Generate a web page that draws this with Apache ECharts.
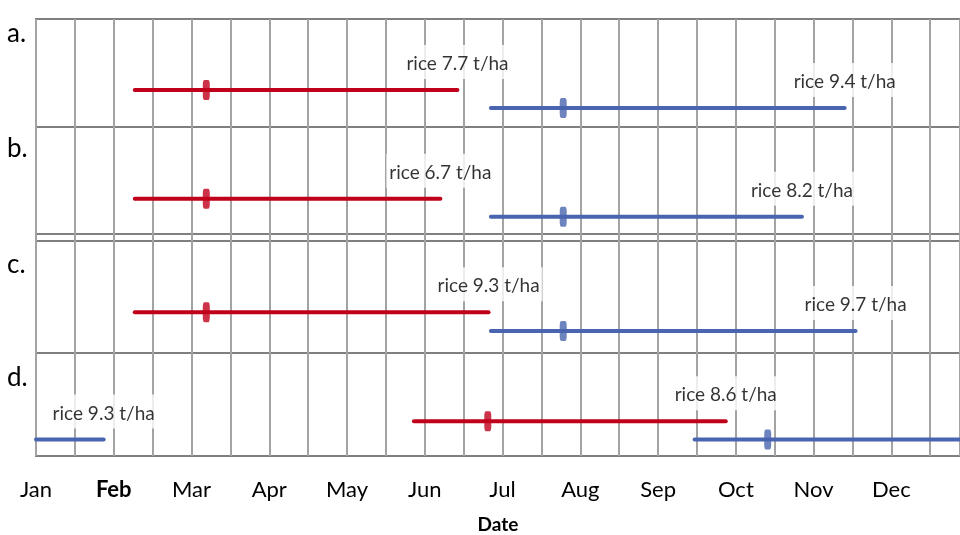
<!DOCTYPE html>
<html><head><meta charset="utf-8">
<script src="https://cdn.jsdelivr.net/npm/echarts@6/dist/echarts.min.js"></script>
<style>html,body{margin:0;padding:0;background:#fff}#c{width:960px;height:535px}</style>
</head><body><div id="c"></div>
<script>
// ---- data (x = months elapsed since 1 Jan) ----
const monthLabels = ['Jan','Feb','Mar','Apr','May','Jun','Jul','Aug','Sep','Oct','Nov','Dec'];
const panelNames = ['a.','b.','c.','d.'];
const redStart  = [1.27, 1.27, 1.27, 4.86];
const redEnd    = [5.42, 5.20, 5.82, 8.87];
const redMark   = [2.19, 2.19, 2.19, 5.81];
const redYield  = [7.7, 6.7, 9.3, 8.6];
const blueStart = [5.85, 5.85, 5.85, 8.47];
const blueEnd   = [10.40, 9.85, 10.54, 12.87]; // > 12 wraps into next January
const blueMark  = [6.78, 6.78, 6.78, 9.41];
const blueYield = [9.4, 8.2, 9.7, 9.3];

// ---- layout / style ----
const RED = '#C0001A', BLUE = '#4A65AF';
const GRID_COLOR = '#a3a3a3', BORDER = '#7f7f7f';
const FONT = 'Lato, "Open Sans", sans-serif';
const XMAX = 929 / 78.18;
const PANELS = [
  {top: 19,  height: 108, ymin: -1.056, ymax: 4.944, letterY: 34},
  {top: 127, height: 107, ymin: -0.96,  ymax: 4.98,  letterY: 149},
  {top: 241, height: 112, ymin: -1.18,  ymax: 4.81,  letterY: 265},
  {top: 353, height: 106, ymin: -0.91,  ymax: 4.76,  letterY: 378}
];
const GAP = {top: 234, height: 7};

const grids = [], xAxes = [], yAxes = [], series = [];
const allGrids = PANELS.concat([GAP]);
allGrids.forEach((p, i) => {
  grids.push({left: 36, right: -5, top: p.top, height: p.height, show: true,
    borderColor: BORDER, borderWidth: 2, backgroundColor: 'transparent'});
  const isTop = i === 0, isBottom = i === 3;
  xAxes.push({
    gridIndex: i, type: 'value', min: 0, max: XMAX, interval: 1,
    position: isTop ? 'top' : 'bottom',
    axisLine: {show: false},
    axisTick: {show: isTop || isBottom, length: isTop ? 7 : 8, lineStyle: {color: GRID_COLOR, width: 2}},
    minorTick: {show: isTop, splitNumber: 2, length: 7, lineStyle: {color: GRID_COLOR, width: 2}},
    splitLine: {show: true, lineStyle: {color: GRID_COLOR, width: 2}},
    minorSplitLine: {show: true, lineStyle: {color: GRID_COLOR, width: 2}},
    axisLabel: {show: isBottom, margin: 23, fontSize: 22, fontFamily: FONT, color: '#000',
      showMaxLabel: false,
      formatter: v => (Number.isInteger(v) && v < 12) ? (v === 1 ? '{b|' + monthLabels[v] + '}' : monthLabels[v]) : '',
      rich: {b: {fontWeight: 'bold', fontSize: 22, fontFamily: FONT, color: '#000'}}},
    name: isBottom ? 'Date' : '', nameLocation: 'middle', nameGap: 59,
    nameTextStyle: {fontWeight: 'bold', fontSize: 19, fontFamily: FONT, color: '#000'}
  });
  yAxes.push({gridIndex: i, type: 'value', min: p.ymin !== undefined ? p.ymin : 0,
    max: p.ymax !== undefined ? p.ymax : 1, show: false});
});

function addBar(i, s, e, m, yld, level, color) {
  const segs = e > 12 ? [[s, 12], [0, e - 12]] : [[s, e]];
  segs.forEach(sg => series.push({type: 'line', xAxisIndex: i, yAxisIndex: i, silent: true,
    data: [[sg[0], level], [sg[1], level]], symbol: 'none', z: 3,
    lineStyle: {color: color, width: 4, cap: 'round'}}));
  const labelX = e > 12 ? e - 12 : e;
  series.push({type: 'scatter', xAxisIndex: i, yAxisIndex: i, silent: true, z: 4,
    data: [[m, level]], symbol: 'roundRect', symbolSize: [7, 20], itemStyle: {color: color}});
  series.push({type: 'scatter', xAxisIndex: i, yAxisIndex: i, silent: true, z: 5,
    data: [[labelX, level]], symbolSize: 0,
    label: {show: true, position: 'top', distance: 11, formatter: 'rice ' + yld + ' t/ha',
      backgroundColor: '#fff', padding: [9, 3, 5, 3], lineHeight: 20,
      fontSize: 19, fontFamily: FONT, color: '#000'}});
}
PANELS.forEach((p, i) => {
  addBar(i, redStart[i], redEnd[i], redMark[i], redYield[i], 1, RED);
  addBar(i, blueStart[i], blueEnd[i], blueMark[i], blueYield[i], 0, BLUE);
});

const graphic = PANELS.map((p, i) => ({type: 'text', x: 7, y: p.letterY,
  style: {text: panelNames[i], font: '26px ' + FONT, fill: '#000', verticalAlign: 'middle'}}));

const chart = echarts.init(document.getElementById('c'), null, {renderer: 'canvas'});
chart.setOption({animation: false, backgroundColor: '#fff', grid: grids, xAxis: xAxes, yAxis: yAxes,
  series: series, graphic: graphic});
</script></body></html>
